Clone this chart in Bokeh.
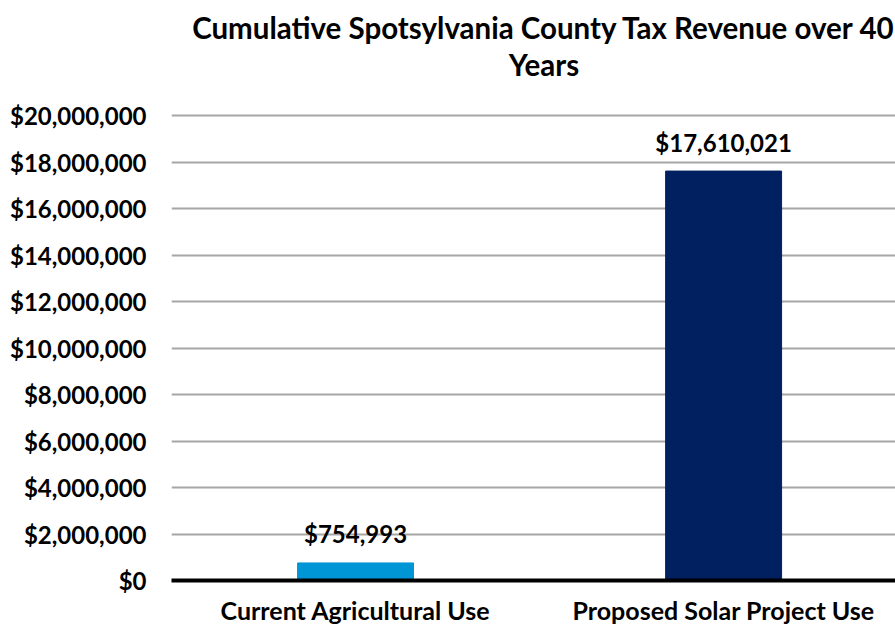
from bokeh.plotting import figure
from bokeh.models import (ColumnDataSource, Range1d, FixedTicker, NumeralTickFormatter,
                          LabelSet, Label)
from bokeh.core.properties import value
from bokeh.embed import file_html
from bokeh.resources import INLINE

# ---- data ----
categories = ["Current Agricultural Use", "Proposed Solar Project Use"]
revenue = [754993, 17610021]
colors = ["#0096D6", "#002060"]
y_ticks = [0, 2000000, 4000000, 6000000, 8000000, 10000000,
           12000000, 14000000, 16000000, 18000000, 20000000]
title_lines = ["Cumulative Spotsylvania County Tax Revenue over 40", "Years"]

FONT = "Lato"

xpos = [i + 0.5 for i in range(len(categories))]
labels = ["${:,.0f}".format(v) for v in revenue]
src = ColumnDataSource(dict(x=xpos, top=revenue, color=colors, label=labels))

W, H = 895, 627
LEFT, BOTTOM = 171, 47
AXIS_Y = H - BOTTOM            # pixel row of $0
PX_PER_UNIT = 465 / 20000000   # $20M gridline sits 465 px above $0
y_top = AXIS_Y / PX_PER_UNIT   # frame reaches the top of the canvas (room for title)

p = figure(width=W, height=H, output_backend="svg", toolbar_location=None,
           x_range=Range1d(0, 1.967), y_range=Range1d(0, y_top),
           min_border_left=LEFT, min_border_right=0, min_border_top=0,
           min_border_bottom=BOTTOM)
p.outline_line_color = None
p.background_fill_color = "white"
p.border_fill_color = "white"

p.vbar(x="x", top="top", width=0.315, color="color", source=src)

# y axis
p.yaxis.ticker = FixedTicker(ticks=y_ticks)
p.yaxis.formatter = NumeralTickFormatter(format="$0,0")
p.yaxis.axis_line_color = None
p.yaxis.major_tick_line_color = None
p.yaxis.minor_tick_line_color = None
p.yaxis.major_label_text_font = FONT
p.yaxis.major_label_text_font_style = "bold"
p.yaxis.major_label_text_font_size = "24px"
p.yaxis.major_label_text_color = "black"
p.yaxis.major_label_standoff = 19

# x axis
p.xaxis.ticker = FixedTicker(ticks=xpos)
p.xaxis.major_label_overrides = {x: c for x, c in zip(xpos, categories)}
p.xaxis.axis_line_color = "black"
p.xaxis.axis_line_width = 4
p.xaxis.major_tick_line_color = None
p.xaxis.minor_tick_line_color = None
p.xaxis.major_label_text_font = FONT
p.xaxis.major_label_text_font_style = "bold"
p.xaxis.major_label_text_font_size = "25px"
p.xaxis.major_label_text_color = "black"
p.xaxis.major_label_standoff = 8

# grid
p.xgrid.grid_line_color = None
p.ygrid.ticker = FixedTicker(ticks=y_ticks)
p.ygrid.grid_line_color = "#A6A6A6"
p.ygrid.grid_line_width = 2

# value labels
p.add_layout(LabelSet(x="x", y="top", text="label", source=src, y_offset=29,
                      text_align="center", text_baseline="middle",
                      text_font=value(FONT), text_font_style="bold",
                      text_font_size="24px", text_color="black"))

# title (screen units are measured inside the plot frame, from its bottom-left)
for t, yc in zip(title_lines, [27, 64]):
    p.add_layout(Label(x=543.5 - LEFT, y=AXIS_Y - yc, x_units="screen",
                       y_units="screen", text=t,
                       text_align="center", text_baseline="middle",
                       text_font=FONT, text_font_style="bold",
                       text_font_size="29.5px", text_color="black"))

open("out.html", "w").write(file_html(p, INLINE))
